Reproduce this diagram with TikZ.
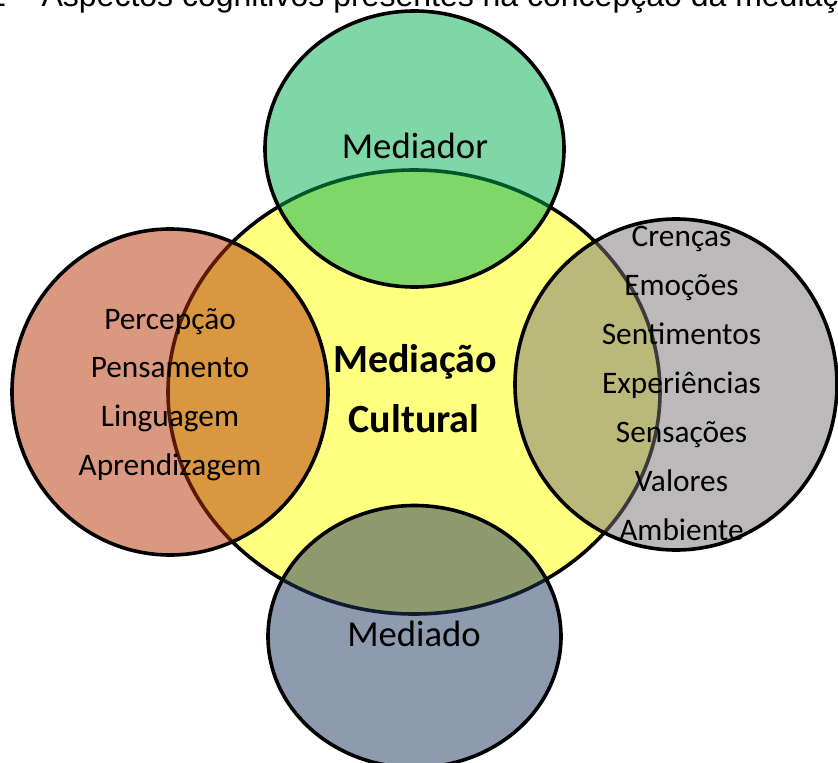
\documentclass[tikz,border=0pt]{standalone}
\usepackage{fontspec}
\setmainfont{Carlito}
\newfontfamily\captionfont{Liberation Sans}

\begin{document}
\begin{tikzpicture}[x=0.75pt,y=0.75pt,yscale=-1,xscale=1,
		bubble/.style={draw=black, line width=2.7pt, fill opacity=0.5},
		listtext/.style={anchor=base, inner sep=0.75pt, font=\fontsize{23.5}{28}\selectfont}]
	\useasboundingbox (0,0) rectangle (838,763);
	\clip (0,0) rectangle (838,763);
	
	% Caption (cut by the frame)
	\draw (-12,6.5) node [anchor=base west][inner sep=0pt] (caption) {\captionfont\fontsize{24}{28}\selectfont 2 – Aspectos cognitivos presentes na concepção da mediação};
	
	%Ellipse [Mediacao Cultural]
	\draw [line width=2.7pt, fill={rgb, 255:red, 255; green, 255; blue, 128 }] (414,392) ellipse [x radius=246, y radius=222];
	%Ellipse [Mediador]
	\draw [bubble, fill={rgb, 255:red, 0; green, 176; blue, 80 }] (414.5,149) ellipse [x radius=149.5, y radius=138];
	%Ellipse [cognitive]
	\draw [bubble, fill={rgb, 255:red, 180; green, 50; blue, 0 }] (170,392) ellipse [x radius=158, y radius=163];
	%Ellipse [affective]
	\draw [bubble, fill={rgb, 255:red, 120; green, 116; blue, 118 }] (676,384.5) ellipse [x radius=161, y radius=165.5];
	%Ellipse [Mediado]
	\draw [bubble, fill={rgb, 255:red, 30; green, 54; blue, 94 }] (414.5,636.5) ellipse [x radius=146.5, y radius=131];
	
	% Text Node
	\draw (415,158) node [anchor=base][inner sep=0.75pt, font=\fontsize{27.5}{33}\selectfont] (mediador) {Mediador};
	% Text Node
	\draw (414,646.7) node [anchor=base][inner sep=0.75pt, font=\fontsize{27.5}{33}\selectfont] (mediado) {Mediado};
	% Text Node
	\draw (415,372) node [anchor=base][inner sep=0.75pt, font=\bfseries\fontsize{30}{36}\selectfont] (mediacao) {Mediação};
	% Text Node
	\draw (414,432) node [anchor=base][inner sep=0.75pt, font=\bfseries\fontsize{30}{36}\selectfont] (cultural) {Cultural};
	
	% Text Nodes [left list]
	\foreach \word [count=\i] in {Percepção, Pensamento, Linguagem, Aprendizagem}
	\draw (170,{329.3+48.6*(\i-1)}) node [listtext] (cog\i) {\word};
	% Text Nodes [right list]
	\foreach \word [count=\i] in {Crenças, Emoções, Sentimentos, Experiências, Sensações, Valores, Ambiente}
	\draw (681.5,{246.7+48.9*(\i-1)}) node [listtext] (aff\i) {\word};
	
\end{tikzpicture}
\end{document}
